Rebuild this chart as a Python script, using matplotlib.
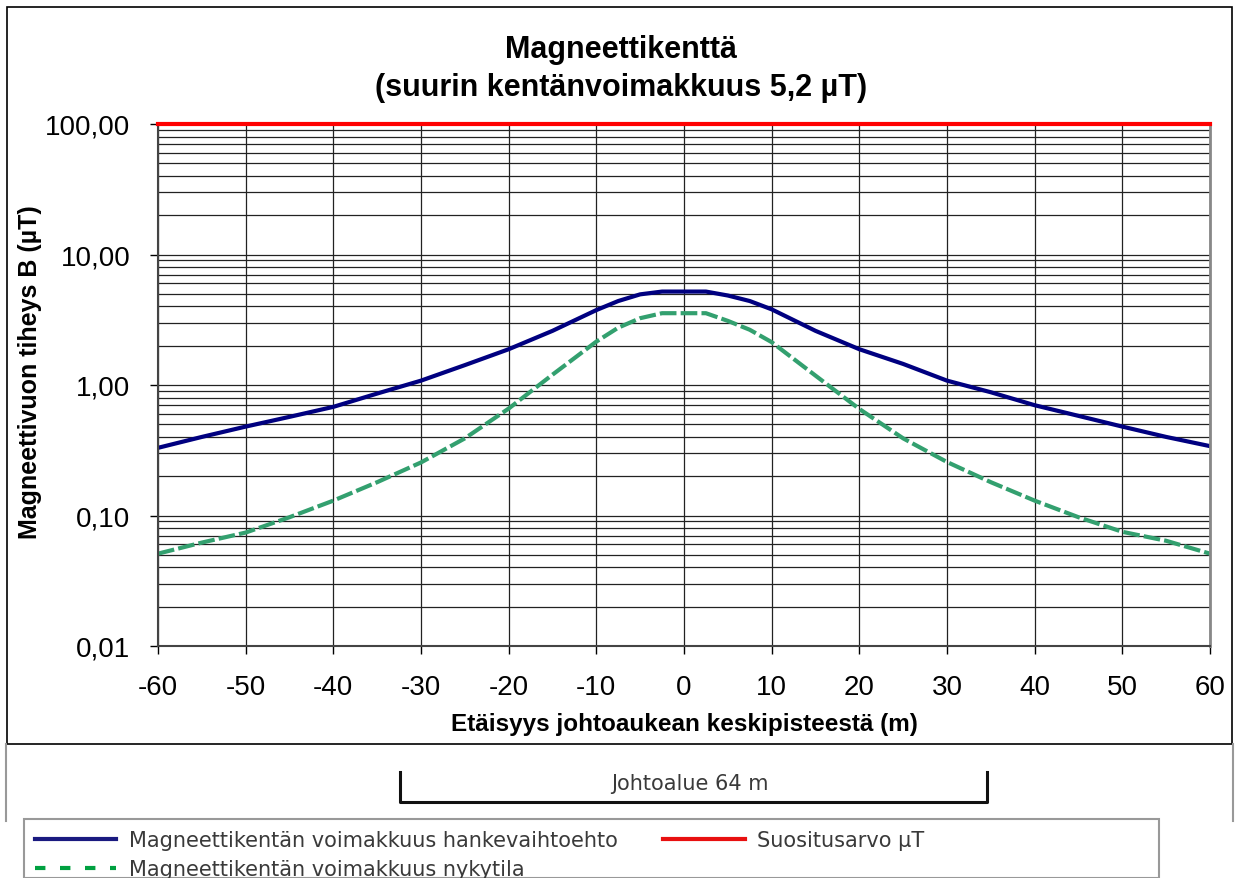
from matplotlib import pyplot as plt
from matplotlib.lines import Line2D
from matplotlib.patches import Rectangle
from matplotlib.ticker import FixedLocator, FuncFormatter

#? Data
distance = [-60, -55, -50, -45, -40, -35, -30, -25, -20, -15, -10, -7.5, -5, -2.5, 0,
            2.5, 5, 7.5, 10, 15, 20, 25, 30, 35, 40, 45, 50, 55, 60]  # m
b_project = [0.33, 0.40, 0.48, 0.57, 0.68, 0.86, 1.08, 1.42, 1.88, 2.60, 3.75, 4.40, 4.95, 5.20, 5.20,
             5.20, 4.85, 4.40, 3.80, 2.60, 1.88, 1.45, 1.08, 0.88, 0.70, 0.58, 0.48, 0.40, 0.34]  # uT
b_current = [0.051, 0.062, 0.074, 0.097, 0.13, 0.18, 0.255, 0.39, 0.66, 1.20, 2.15, 2.75, 3.25, 3.55, 3.55,
             3.55, 3.10, 2.65, 2.13, 1.18, 0.655, 0.39, 0.257, 0.18, 0.13, 0.097, 0.075, 0.064, 0.051]  # uT
limit_x = [-60, 60]
limit_y = [100, 100]  # suositusarvo

x_ticks = list(range(-60, 61, 10))
y_ticks = [0.01, 0.1, 1, 10, 100]

title_lines = ["Magneettikenttä", "(suurin kentänvoimakkuus 5,2 µT)"]
x_label = "Etäisyys johtoaukean keskipisteestä (m)"
y_label = "Magneettivuon tiheys B (µT)"
labels = ["Magneettikentän voimakkuus hankevaihtoehto",
          "Magneettikentän voimakkuus nykytila",
          "Suositusarvo µT"]
zone_text = "Johtoalue 64 m"

plt.rcParams['font.family'] = ['Liberation Sans', 'DejaVu Sans']

W, H = 1237, 879
fig = plt.figure(figsize=(W / 100, H / 100), dpi=100)

#* pixel -> figure fraction
def fx(px):
    return px / W

def fy(py):
    return 1 - py / H

ax = fig.add_axes([fx(158), fy(647), fx(1210) - fx(158), fy(125) - fy(647)])

#? Curves
ax.plot(distance, b_project, color='#000080', lw=3, solid_joinstyle='round')
ax.plot(distance, b_current, color='#33a06f', lw=3, dashes=(4, 1))
ax.plot(limit_x, limit_y, color='#ff0000', lw=3, clip_on=False, zorder=5)

#? Axes
ax.set_yscale('log')
ax.set_xlim(-60, 60)
ax.set_ylim(0.01, 100)
ax.set_xticks(x_ticks)
ax.set_xticklabels([str(t) for t in x_ticks])
ax.yaxis.set_major_locator(FixedLocator(y_ticks))
ax.yaxis.set_major_formatter(FuncFormatter(lambda v, p: f"{v:.2f}".replace('.', ',')))
minor = [m * 10.0**e for e in range(-2, 2) for m in range(2, 10)]
ax.yaxis.set_minor_locator(FixedLocator(minor))
ax.tick_params(axis='y', which='minor', length=0)
ax.tick_params(axis='both', which='major', direction='out', length=6, width=1, labelsize=20)
ax.tick_params(axis='y', pad=14)
ax.tick_params(axis='x', pad=14)

ax.grid(True, which='both', axis='y', color='#222222', lw=0.9)
ax.grid(True, which='major', axis='x', color='#222222', lw=0.9)
ax.set_axisbelow(True)
for s in ['left', 'bottom']:
    ax.spines[s].set_color('#444444')
    ax.spines[s].set_linewidth(1.5)
ax.spines['right'].set_color('#888888')
ax.spines['right'].set_linewidth(2)
ax.spines['top'].set_visible(False)

ax.set_xlabel(x_label, fontsize=17.5, fontweight='bold', labelpad=9)
fig.text(fx(30), fy(372), y_label, rotation=90, fontsize=18, fontweight='bold',
         ha='center', va='center')

#? Title
fig.text(fx(621), fy(50), title_lines[0], fontsize=22, fontweight='bold', ha='center', va='center')
fig.text(fx(621), fy(88), title_lines[1], fontsize=22, fontweight='bold', ha='center', va='center')

#? Chart border
fig.patches.append(Rectangle((fx(7), fy(745)), fx(1232) - fx(7), fy(8) - fy(745),
                             transform=fig.transFigure, fill=False, ec='black', lw=1.2))
fig.lines.append(Line2D([fx(6), fx(6)], [fy(745), fy(822)], transform=fig.transFigure,
                        color='#999999', lw=1.5))
fig.lines.append(Line2D([fx(1233), fx(1233)], [fy(745), fy(822)], transform=fig.transFigure,
                        color='#999999', lw=1.5))

#? Johtoalue bracket
bx = [fx(400), fx(400), fx(987), fx(987)]
by = [fy(773), fy(803), fy(803), fy(773)]
fig.lines.append(Line2D(bx, by, transform=fig.transFigure, color='#111111', lw=2.2))
fig.text(fx(690), fy(784), zone_text, family='DejaVu Sans', fontsize=15,
         color='#3a3a3a', ha='center', va='center')

#? Legend (own box, separate from the chart)
fig.patches.append(Rectangle((fx(24), fy(879)), fx(1159) - fx(24), fy(820) - fy(879),
                             transform=fig.transFigure, fill=False, ec='#999999', lw=1.5))
handles = [Line2D([], [], color='#1a1a80', lw=3),
           Line2D([], [], color='#00a040', lw=3, dashes=(2.5, 3.5)),
           Line2D([], [], color='#e81010', lw=3)]
leg = fig.legend(handles, labels, ncol=2, loc='upper left',
                 bbox_to_anchor=(fx(35), fy(831)), frameon=False,
                 prop={'family': 'DejaVu Sans', 'size': 15},
                 handlelength=3.9, handletextpad=0.6, columnspacing=2.2,
                 labelspacing=0.45, borderpad=0, borderaxespad=0)
for t in leg.get_texts():
    t.set_color('#3a3a3a')

plt.savefig('out.png', dpi=100)
